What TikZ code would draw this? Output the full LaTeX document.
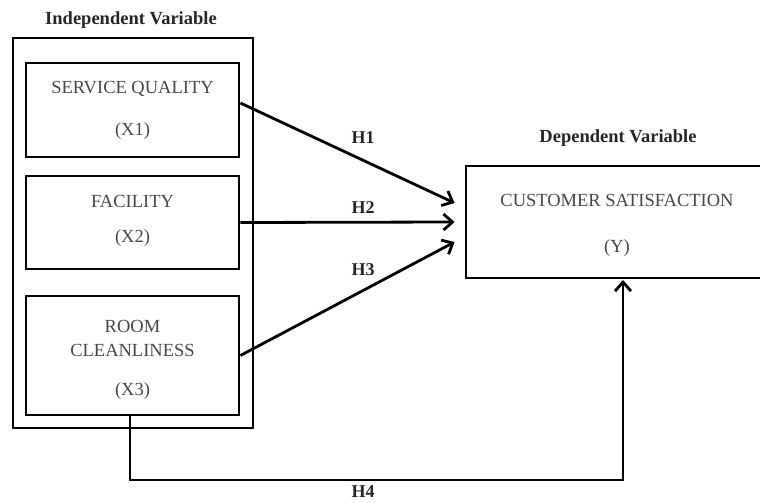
\documentclass[tikz,border=0pt]{standalone}
\usepackage{fontspec}
\setmainfont{Liberation Serif}
\usetikzlibrary{arrows.meta}
\begin{document}
\begin{tikzpicture}[x=1pt,y=-1pt,
  box/.style={draw=black,line width=2.8pt,rectangle,inner sep=0pt},
  txt/.style={font=\fontsize{18.5}{23}\selectfont,text=black!72},
  title/.style={font=\fontsize{18.5}{22}\selectfont\bfseries,text=black!85},
  hlabel/.style={font=\fontsize{18}{22}\selectfont\bfseries,text=black!85},
  conn/.style={line width=2.8pt,-{Straight Barb[length=9pt,width=16pt,line width=2.8pt]}}]
\clip (0,0) rectangle (760,503);
\useasboundingbox (0,0) rectangle (760,503);
% outer group box
\node[box,minimum width=240pt,minimum height=390pt] (outer) at (133,233) {};
\node[title] (indep) at (131,20) {Independent Variable};
% inner boxes
\node[box,minimum width=213pt,minimum height=94pt] (x1) at (132.5,110) {};
\node[txt] (x1a) at (132.5,89) {SERVICE QUALITY};
\node[txt] (x1b) at (132.5,131) {(X1)};
\node[box,minimum width=213pt,minimum height=93pt] (x2) at (132.5,222.5) {};
\node[txt] (x2a) at (132.5,201) {FACILITY};
\node[txt] (x2b) at (132.5,238) {(X2)};
\node[box,minimum width=213pt,minimum height=119pt] (x3) at (132.5,355.5) {};
\node[txt] (x3a) at (132.5,326) {ROOM};
\node[txt] (x3b) at (132.5,350) {CLEANLINESS};
\node[txt] (x3c) at (132.5,391) {(X3)};
% dependent box
\node[title] (dep) at (618,138) {Dependent Variable};
\node[box,minimum width=310pt,minimum height=112pt] (y) at (621,222) {};
\node[txt] (ya) at (617,200) {CUSTOMER SATISFACTION};
\node[txt] (yb) at (617,248) {(Y)};
% arrow end coordinates
\coordinate (e1) at ([xshift=-10pt,yshift=19pt]y.west);
\coordinate (e2) at ([xshift=-10pt]y.west);
\coordinate (e3) at ([xshift=-10pt,yshift=-20pt]y.west);
\coordinate (s1) at ([yshift=7pt]x1.east);
\coordinate (s3) at (x3.east);
\draw[conn] (s1) -- (e1);
\draw[conn] (x2.east) -- (e2);
\draw[conn] (s3) -- (e3);
\node[hlabel] (h1) at (363,138) {H1};
\node[hlabel] (h2) at (363,208) {H2};
\node[hlabel] (h3) at (363,270) {H3};
% H4 connector
\coordinate (b3) at (130,415);
\coordinate (c1) at (130,480);
\coordinate (c2) at (623,480);
\coordinate (yt) at (623,280);
\draw[conn] (b3) -- (c1) -- (c2) -- (yt);
\node[hlabel] (h4) at (363,492) {H4};
\end{tikzpicture}
\end{document}
